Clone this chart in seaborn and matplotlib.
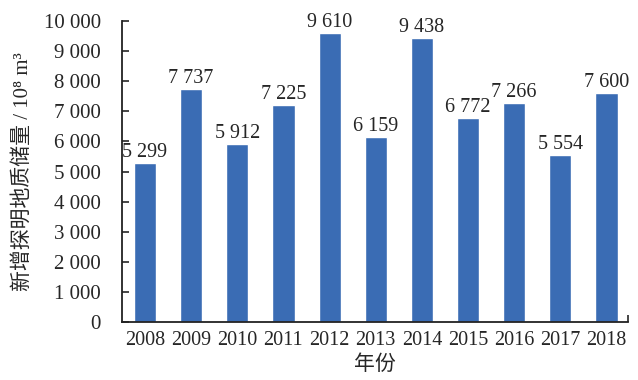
import matplotlib
matplotlib.use("Agg")
import matplotlib.pyplot as plt
import seaborn as sns
import pandas as pd

years = ['2008', '2009', '2010', '2011', '2012', '2013', '2014', '2015', '2016', '2017', '2018']
reserves = [5299, 7737, 5912, 7225, 9610, 6159, 9438, 6772, 7266, 5554, 7600]
yticks = [0, 1000, 2000, 3000, 4000, 5000, 6000, 7000, 8000, 9000, 10000]

def fmt(v):
    return f"{v:,}".replace(",", " ")

df = pd.DataFrame({'year': years, 'value': reserves})

sns.set_style("white")
plt.rcParams['font.family'] = ['Liberation Serif', 'DejaVu Serif', 'Noto Sans CJK SC']

fig, ax = plt.subplots(figsize=(6.38, 3.8), dpi=100)
fig.subplots_adjust(left=0.191, right=0.984, top=0.945, bottom=0.152)

sns.barplot(data=df, x='year', y='value', color='#3a6cb4', width=0.48,
            saturation=1, ax=ax)

for i, v in enumerate(reserves):
    ax.text(i, v + 30, fmt(v), ha='center', va='bottom', fontsize=14.5)

ax.set_ylim(0, 10000)
ax.set_xlim(-0.5, 10.46)
ax.set_yticks(yticks)
ax.set_yticklabels([fmt(t) for t in yticks], fontsize=15)
ax.tick_params(axis='y', direction='in', length=5, width=1.2, left=True, pad=15)
ax.tick_params(axis='x', length=0, labelsize=14.5, pad=6)
ax.set_xticks(range(len(years)))
ax.set_xticklabels(years)
ax.set_xticks([10.46], minor=True)
ax.tick_params(axis='x', which='minor', direction='in', length=5, width=1.2, bottom=True)

for s in ['top', 'right']:
    ax.spines[s].set_visible(False)
for s in ['left', 'bottom']:
    ax.spines[s].set_color('#222222')
    ax.spines[s].set_linewidth(1.3)

ax.set_xlabel('年份', fontsize=15, labelpad=4)
ax.set_ylabel('新增探明地质储量 / 10⁸ m³', fontsize=15, labelpad=8)

plt.savefig("out.png", dpi=100)
